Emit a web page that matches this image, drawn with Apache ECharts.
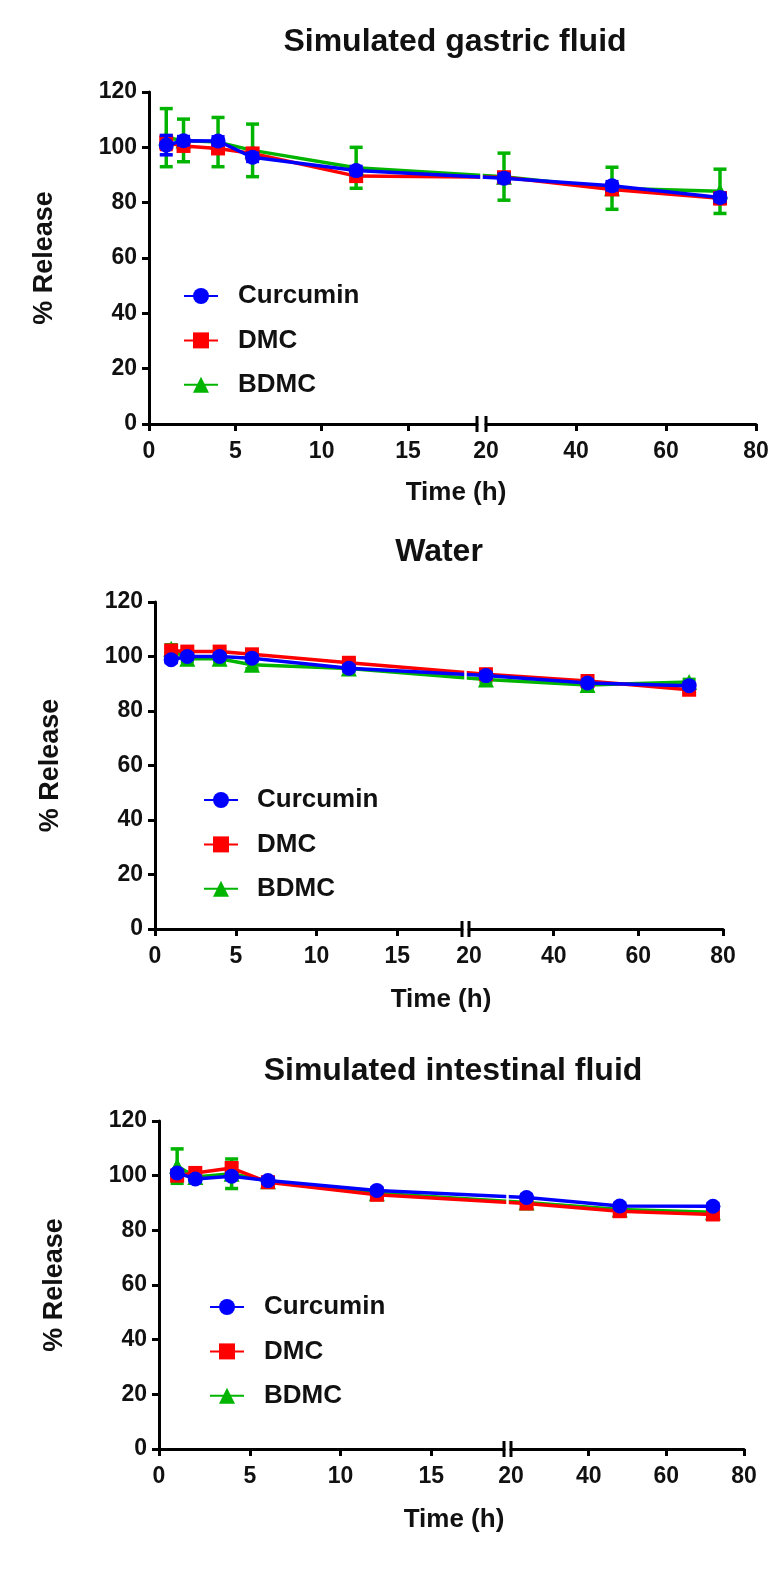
<!DOCTYPE html>
<html>
<head>
<meta charset="utf-8">
<script src="https://cdn.jsdelivr.net/npm/echarts@6/dist/echarts.min.js"></script>
<style>
html,body{margin:0;padding:0;background:#fff;}
#chart{width:772px;height:1574px;}
</style>
</head>
<body>
<div id="chart"></div>
<script>
// ---------------- data ----------------
const times = [1, 2, 4, 6, 12, 24, 48, 72];
const seriesNames = ['Curcumin', 'DMC', 'BDMC'];
const panelTitles = ['Simulated gastric fluid', 'Water', 'Simulated intestinal fluid'];
const xAxisTitle = 'Time (h)';
const yAxisTitle = '% Release';
const leftTickLabels = [0, 5, 10, 15];
const rightTickLabels = [20, 40, 60, 80];

// Simulated gastric fluid
const gastricCurcumin   = [100.8, 102.4, 102.3, 96.4, 91.6, 88.8, 86.1, 81.9];
const gastricCurcuminSD = [3.5, 1.5, 1.5, 1.5, 1.5, 1.5, 1.5, 1.5];
const gastricDMC        = [101.7, 100.5, 99.6, 97.8, 89.6, 89.2, 84.8, 81.6];
const gastricDMCSD      = [2.5, 1.5, 1.5, 1.5, 1.5, 1.5, 1.5, 2.0];
const gastricBDMC       = [103.5, 102.5, 101.9, 98.9, 92.6, 89.4, 85.2, 84.1];
const gastricBDMCSD     = [10.5, 7.7, 8.9, 9.5, 7.4, 8.5, 7.6, 8.0];

// Water
const waterCurcumin   = [98.8, 100.0, 100.0, 99.4, 95.7, 93.0, 90.3, 89.3];
const waterCurcuminSD = [1.0, 1.0, 1.0, 1.0, 1.0, 1.0, 1.0, 1.0];
const waterDMC        = [102.2, 101.8, 101.8, 100.8, 97.7, 93.5, 91.0, 87.8];
const waterDMCSD      = [1.0, 1.0, 1.0, 1.0, 1.0, 1.0, 1.0, 1.0];
const waterBDMC       = [102.8, 99.2, 99.2, 97.0, 95.6, 91.6, 89.5, 90.6];
const waterBDMCSD     = [1.5, 1.0, 1.0, 1.5, 1.0, 1.0, 1.0, 1.0];

// Simulated intestinal fluid
const intestinalCurcumin   = [101.0, 98.8, 99.8, 98.2, 94.6, 92.0, 88.9, 88.8];
const intestinalCurcuminSD = [1.0, 1.0, 1.0, 1.0, 1.0, 1.0, 1.0, 1.0];
const intestinalDMC        = [100.0, 101.0, 102.8, 97.6, 93.0, 89.8, 87.0, 85.8];
const intestinalDMCSD      = [1.5, 1.0, 1.5, 1.0, 1.0, 1.0, 1.0, 1.0];
const intestinalBDMC       = [103.5, 99.5, 100.7, 98.0, 93.6, 90.2, 87.6, 86.6];
const intestinalBDMCSD     = [6.3, 1.0, 5.4, 1.0, 1.0, 1.0, 1.0, 1.0];

// ---------------- assembly ----------------
const panelValues = [
  [[gastricCurcumin, gastricCurcuminSD], [gastricDMC, gastricDMCSD], [gastricBDMC, gastricBDMCSD]],
  [[waterCurcumin, waterCurcuminSD], [waterDMC, waterDMCSD], [waterBDMC, waterBDMCSD]],
  [[intestinalCurcumin, intestinalCurcuminSD], [intestinalDMC, intestinalDMCSD], [intestinalBDMC, intestinalBDMCSD]]
];

const FONT = "'Liberation Sans', Arial, Helvetica, sans-serif";
const colors = ['#0000FF', '#FF0000', '#00B400'];
const symbols = ['circle', 'rect', 'triangle'];
const symbolSizes = [15, 14, 16];
const zOrder = [4, 3, 2];
const LW = 3.5;
const leftMax = 19;
const breakStart = 20;

// layout (pixels)
const layout = [
  {yTop: 92,   yBot: 424,  x0: 149, xLeftEnd: 477, xRightStart: 486, xRightEnd: 756,
   titleX: 455, titleY: 42,   xNameX: 456, xNameY: 493,  legLeft: 183, legRow1: 293,  legPad: 15},
  {yTop: 602,  yBot: 929,  x0: 155, xLeftEnd: 462, xRightStart: 469, xRightEnd: 723,
   titleX: 439, titleY: 552,  xNameX: 441, xNameY: 1000, legLeft: 203, legRow1: 797,  legPad: 14},
  {yTop: 1121, yBot: 1449, x0: 159, xLeftEnd: 504, xRightStart: 511, xRightEnd: 744,
   titleX: 453, titleY: 1071, xNameX: 454, xNameY: 1520, legLeft: 209, legRow1: 1304, legPad: 15}
];

const axisLineStyle = {color: '#000', width: 3};
const labelStyle = {fontSize: 23, fontWeight: 'bold', color: '#111', fontFamily: FONT};

function errRender(color) {
  return function (params, api) {
    const x = api.value(0), lo = api.value(1), hi = api.value(2);
    const pLo = api.coord([x, lo]), pHi = api.coord([x, hi]);
    const hw = 6.5;
    const style = {stroke: color, lineWidth: LW};
    return {
      type: 'group',
      children: [
        {type: 'line', shape: {x1: pLo[0], y1: pLo[1], x2: pHi[0], y2: pHi[1]}, style: style},
        {type: 'line', shape: {x1: pLo[0] - hw, y1: pLo[1], x2: pLo[0] + hw, y2: pLo[1]}, style: style},
        {type: 'line', shape: {x1: pHi[0] - hw, y1: pHi[1], x2: pHi[0] + hw, y2: pHi[1]}, style: style}
      ]
    };
  };
}

const grids = [], xAxes = [], yAxes = [], series = [], titles = [], legends = [];

layout.forEach((lay, p) => {
  const height = lay.yBot - lay.yTop;
  grids.push({left: lay.x0, top: lay.yTop, width: lay.xLeftEnd - lay.x0, height: height,
              containLabel: false, outerBoundsMode: 'none'});
  grids.push({left: lay.xRightStart, top: lay.yTop, width: lay.xRightEnd - lay.xRightStart, height: height,
              containLabel: false, outerBoundsMode: 'none'});
  const gl = 2 * p, gr = 2 * p + 1;

  xAxes.push({
    type: 'value', gridIndex: gl, min: 0, max: leftMax, interval: 5,
    axisLine: {show: true, onZero: false, lineStyle: axisLineStyle},
    axisTick: {show: true, length: 7, lineStyle: {width: 3, color: '#000'}, customValues: leftTickLabels},
    axisLabel: Object.assign({margin: 16, customValues: leftTickLabels}, labelStyle),
    splitLine: {show: false}
  });
  xAxes.push({
    type: 'value', gridIndex: gr, min: breakStart, max: 80, interval: 20,
    axisLine: {show: true, onZero: false, lineStyle: axisLineStyle},
    axisTick: {show: true, length: 7, lineStyle: {width: 3, color: '#000'}, customValues: rightTickLabels.slice(1)},
    axisLabel: Object.assign({margin: 16, customValues: rightTickLabels}, labelStyle),
    splitLine: {show: false}
  });
  yAxes.push({
    type: 'value', gridIndex: gl, min: 0, max: 120, interval: 20,
    name: yAxisTitle, nameLocation: 'middle', nameRotate: 90, nameGap: 91,
    nameTextStyle: {fontSize: 27, fontWeight: 'bold', color: '#111', fontFamily: FONT},
    axisLine: {show: true, onZero: false, lineStyle: axisLineStyle},
    axisTick: {show: true, length: 7, lineStyle: {width: 3, color: '#000'}},
    axisLabel: Object.assign({margin: 12}, labelStyle),
    splitLine: {show: false}
  });
  yAxes.push({
    type: 'value', gridIndex: gr, min: 0, max: 120, interval: 20, show: false,
    splitLine: {show: false}
  });

  titles.push({
    text: panelTitles[p], left: lay.titleX, top: lay.titleY, padding: 0,
    textAlign: 'center', textVerticalAlign: 'middle',
    textStyle: {fontSize: 32, fontWeight: 'bold', color: '#111', fontFamily: FONT}
  });
  titles.push({
    text: xAxisTitle, left: lay.xNameX, top: lay.xNameY, padding: 0,
    textAlign: 'center', textVerticalAlign: 'middle',
    textStyle: {fontSize: 26, fontWeight: 'bold', color: '#111', fontFamily: FONT}
  });

  legends.push({
    data: seriesNames, orient: 'vertical', left: lay.legLeft, top: lay.legRow1 - 10,
    padding: 0, itemWidth: 34, itemHeight: 20, itemGap: 18.4, selectedMode: false,
    textStyle: {fontSize: 26, fontWeight: 'bold', color: '#111', fontFamily: FONT,
                lineHeight: 20, padding: [0, 0, 0, lay.legPad]}
  });

  // draw BDMC first, then DMC, then Curcumin on top
  [2, 1, 0].forEach((s) => {
    const vals = panelValues[p][s][0], sds = panelValues[p][s][1];
    [gl, gr].forEach((g, side) => {
      const idx = times.map((t, i) => i).filter(i => side === 0 ? times[i] < breakStart : times[i] >= breakStart);
      series.push({
        type: 'custom', name: seriesNames[s] + ' SD', xAxisIndex: g, yAxisIndex: g, z: zOrder[s],
        renderItem: errRender(colors[s]), encode: {x: 0, y: [1, 2]}, silent: true,
        data: idx.map(i => [times[i], vals[i] - sds[i], vals[i] + sds[i]])
      });
      series.push({
        type: 'line', name: seriesNames[s], xAxisIndex: g, yAxisIndex: g, z: zOrder[s],
        symbol: symbols[s], symbolSize: symbolSizes[s], showAllSymbol: true,
        itemStyle: {color: colors[s]}, lineStyle: {color: colors[s], width: LW},
        data: idx.map(i => [times[i], vals[i]])
      });
    });
  });
});

const option = {
  backgroundColor: '#fff',
  animation: false,
  textStyle: {fontFamily: FONT},
  title: titles,
  legend: legends,
  grid: grids,
  xAxis: xAxes,
  yAxis: yAxes,
  series: series
};

const chart = echarts.init(document.getElementById('chart'), null, {renderer: 'canvas'});
chart.setOption(option);

// connect segments across the axis break and draw the break marks, using the chart's own scales
const extras = [];
layout.forEach((lay, p) => {
  const gl = 2 * p, gr = 2 * p + 1;
  const iRight = times.findIndex(t => t >= breakStart);
  const iLeft = iRight - 1;
  [2, 1, 0].forEach((s) => {
    const vals = panelValues[p][s][0];
    const a = chart.convertToPixel({gridIndex: gl}, [times[iLeft], vals[iLeft]]);
    const b = chart.convertToPixel({gridIndex: gr}, [times[iRight], vals[iRight]]);
    extras.push({type: 'line', z: zOrder[s] - 1, silent: true,
      shape: {x1: a[0], y1: a[1], x2: b[0], y2: b[1]},
      style: {stroke: colors[s], lineWidth: LW}});
  });
  const bl = chart.convertToPixel({gridIndex: gl}, [leftMax, 0]);
  const br = chart.convertToPixel({gridIndex: gr}, [breakStart, 0]);
  const top = chart.convertToPixel({gridIndex: gl}, [0, 120]);
  extras.push({type: 'rect', z: 50, silent: true,
    shape: {x: (bl[0] + br[0]) / 2 - 1.25, y: top[1], width: 2.5, height: bl[1] - top[1] - 14},
    style: {fill: '#fff'}});
  [bl, br].forEach(pt => extras.push({type: 'line', z: 50, silent: true,
    shape: {x1: pt[0], y1: pt[1] - 8, x2: pt[0], y2: pt[1] + 8},
    style: {stroke: '#000', lineWidth: 3}}));
});
chart.setOption({graphic: extras});
</script>
</body>
</html>
